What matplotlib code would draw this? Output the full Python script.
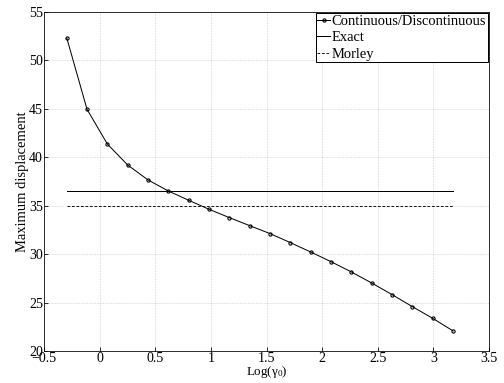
import numpy as np
import matplotlib.pyplot as plt

plt.rcParams['font.family'] = ['Liberation Serif', 'DejaVu Serif']
plt.rcParams['mathtext.fontset'] = 'custom'
plt.rcParams['mathtext.rm'] = 'Liberation Serif'
plt.rcParams['mathtext.it'] = 'Liberation Serif:italic'

# datos
log_gamma = np.linspace(-0.296, 3.177, 20)
max_disp = [52.35, 44.95, 41.37, 39.2, 37.66, 36.52, 35.56, 34.63, 33.77, 32.94,
            32.12, 31.19, 30.22, 29.22, 28.16, 27.02, 25.82, 24.58, 23.37, 22.07]
exact_val = 36.55
morley_val = 35.0

fig = plt.figure(figsize=(7, 383 / 72), dpi=72)
ax = fig.add_axes([44 / 504, 1 - 351 / 383, 445 / 504, 339 / 383])

ax.plot(log_gamma, max_disp, '-o', color='black', lw=1.0, ms=3.2,
        mfc='none', mew=1.1, label='Continuous/Discontinuous')
ax.plot([log_gamma[0], log_gamma[-1]], [exact_val, exact_val], '-', color='black',
        lw=1.0, label='Exact')
ax.plot([log_gamma[0], log_gamma[-1]], [morley_val, morley_val], '--', color='black',
        lw=0.9, dashes=(3, 2), label='Morley')

ax.set_xlim(-0.5, 3.5)
ax.set_ylim(20, 55)
ax.set_xticks(np.arange(-0.5, 3.51, 0.5))
ax.set_xticklabels(['\u22120.5', '0', '0.5', '1', '1.5', '2', '2.5', '3', '3.5'])
ax.set_yticks(np.arange(20, 56, 5))
ax.grid(True, color='#b0b0b0', linestyle=':', linewidth=0.6)
ax.tick_params(direction='in', labelsize=14, pad=1, length=4)
for s in ax.spines.values():
    s.set_linewidth(0.8)

ax.set_xlabel('Log(\u03b3$_0$)', fontsize=13, labelpad=-1)
ax.set_ylabel('Maximum displacement', fontsize=14.5, labelpad=0)

leg = ax.legend(loc='upper right', fontsize=14.5, handlelength=0.9, handletextpad=0.1,
                borderpad=0.1, labelspacing=0.22, borderaxespad=0.1, fancybox=False,
                framealpha=1)
leg.get_frame().set_edgecolor('black')
leg.get_frame().set_linewidth(1.0)

fig.savefig('out.png', dpi=72)
